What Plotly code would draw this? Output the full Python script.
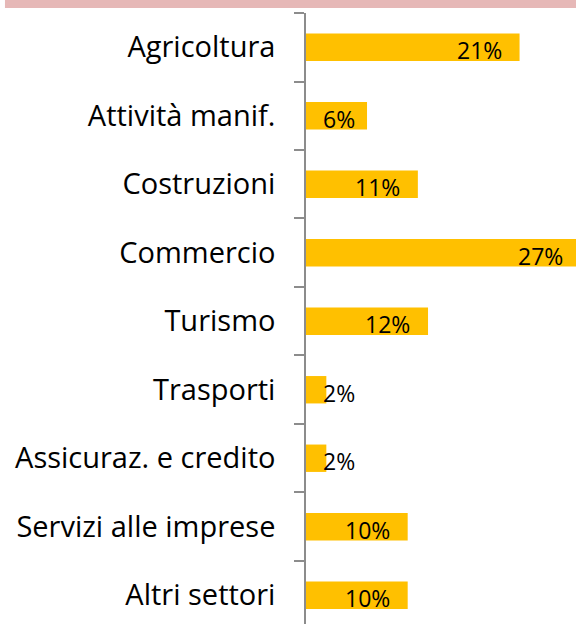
import plotly.graph_objects as go

# Data
sectors = [
    "Agricoltura",
    "Attività manif.",
    "Costruzioni",
    "Commercio",
    "Turismo",
    "Trasporti",
    "Assicuraz. e credito",
    "Servizi alle imprese",
    "Altri settori",
]
shares = [21, 6, 11, 27, 12, 2, 2, 10, 10]

BAR_COLOR = "#FFC000"
AXIS_COLOR = "#8C8C8C"
FONT = "'Open Sans', sans-serif"
X_MAX = 26.55  # commercio bar runs off the right edge, as in the original

fig = go.Figure()

fig.add_trace(
    go.Bar(
        x=shares,
        y=sectors,
        orientation="h",
        marker=dict(color=BAR_COLOR, line=dict(width=0)),
        hoverinfo="skip",
    )
)

# value labels near the end of each bar. The (invisible) arrow head sits on the
# axis so the label still shows when the bar runs past the plot area.
annotations = []
for sector, val in zip(sectors, shares):
    if val >= 7:
        pos = dict(ax=val, xanchor="right", xshift=-16)
    else:
        pos = dict(ax=0, xanchor="left", xshift=15)
    pos.update(
        x=0,
        y=sector,
        xref="x",
        yref="y",
        axref="x",
        ayref="pixel",
        ay=0,
        showarrow=True,
        arrowcolor="rgba(0,0,0,0)",
        arrowwidth=0.1,
        arrowhead=0,
        text=f"{val}%",
        yanchor="middle",
        yshift=-3,
        font=dict(family=FONT, size=23, color="#000000"),
    )
    annotations.append(pos)

fig.update_layout(
    width=576,
    height=624,
    margin=dict(l=306, r=0, t=13, b=0),
    paper_bgcolor="white",
    plot_bgcolor="white",
    showlegend=False,
    bargap=0.6,
    font=dict(family=FONT, color="#000000"),
    annotations=annotations,
    # pink header strip
    shapes=[
        dict(
            type="rect",
            xref="paper",
            yref="paper",
            x0=-1.115,
            x1=1.0,
            y0=1.0082,
            y1=1.03,
            fillcolor="#E6B8B7",
            line=dict(width=0),
            layer="above",
        )
    ],
)

fig.update_xaxes(visible=False, range=[0, X_MAX], fixedrange=True)
fig.update_yaxes(
    type="category",
    range=[8.42, -0.5],
    tickson="boundaries",
    ticks="outside",
    ticklen=10,
    tickwidth=1.5,
    tickcolor=AXIS_COLOR,
    showline=True,
    linecolor=AXIS_COLOR,
    linewidth=1.5,
    showgrid=False,
    zeroline=False,
    ticklabelstandoff=23,
    tickfont=dict(family=FONT, size=29, color="#000000"),
    fixedrange=True,
)

# drop the default body margin so the figure sits at the page corner
fig.write_html(
    "out.html",
    config={"displayModeBar": False},
    post_script="document.body.style.margin='0';",
)
